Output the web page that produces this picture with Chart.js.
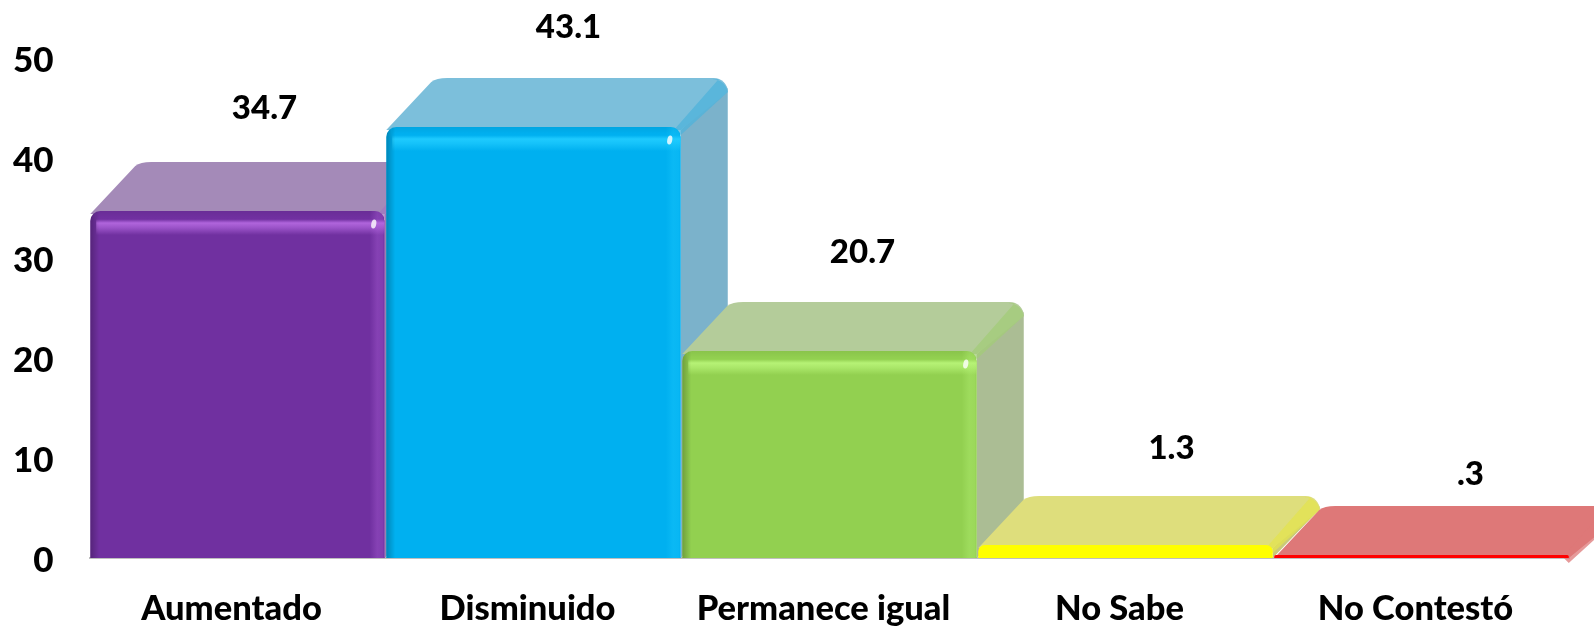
<!doctype html>
<html>
<head>
<meta charset="UTF-8">
<title>Chart</title>
<script src="https://cdn.jsdelivr.net/npm/chart.js@4"></script>
<style>
	html, body { margin: 0; padding: 0; background: #fff; overflow: hidden; }
	canvas { display: block; }
</style>
</head>
<body>
<canvas id="canvas" width="1594" height="626"></canvas>
<script>
var categories = ["Aumentado", "Disminuido", "Permanece igual", "No Sabe", "No Contestó"];
var values = [34.7, 43.1, 20.7, 1.3, 0.3];
var yTicks = [0, 10, 20, 30, 40, 50];

var frontColors = ["#7030A0", "#00B0F0", "#92D050", "#FFFF00", "#FF0000"];
var topColors = ["#A48AB8", "#7CBFDB", "#B4CC9A", "#DEDE7C", "#DE7878"];
var sideColors = ["#9A80AE", "#7BB2CB", "#ABBD94", "#C9C97A", "#D4706F"];
var bandColors = ["#A078C0", "#4FB3DB", "#A3CC78", "#E3E34F", "#DE7878"];
var lightColors = ["#B468E0", "#20CCFF", "#B8F478", "#FFFF00", "#FF0000"];

// offset of the value label from the bar top centre
var labelDx = [27, 35, 33, 46, 49];
var labelDy = [103, 100, 99, 97, 81];

var depthX = 47, depthY = 49, font = "900 33px Lato, sans-serif";

function topFace(ctx, b, l, r, c) {
	var y = b.y - depthY;
	ctx.beginPath();
	ctx.moveTo(l, b.y + 3);
	ctx.lineTo(l + depthX - 2, y + 4);
	ctx.quadraticCurveTo(l + depthX + 3, y, l + depthX + 14, y);
	ctx.arcTo(r + depthX, y, r + depthX, y + 14, 14);
	ctx.lineTo(r, b.y + 3);
	ctx.closePath();
	ctx.fillStyle = c;
	ctx.fill();
}

var box3d = {
	id: "box3d",
	beforeDatasetsDraw: function(chart) {
		var ctx = chart.ctx, bars = chart.getDatasetMeta(0).data;
		ctx.save();
		bars.forEach(function(b, i) {
			var l = b.x - b.width / 2, r = b.x + b.width / 2, base = b.base;
			// side
			ctx.beginPath();
			ctx.moveTo(r, b.y + 3);
			ctx.lineTo(r + depthX, b.y - depthY + 10);
			ctx.lineTo(r + depthX, base - depthY);
			ctx.lineTo(r, base);
			ctx.closePath();
			ctx.fillStyle = sideColors[i];
			ctx.fill();
			topFace(ctx, b, l, r, topColors[i]);
			// softer band on the top right edge
			ctx.save();
			ctx.globalAlpha = 0.75;
			ctx.beginPath();
			ctx.moveTo(r - 6, b.y + 2);
			ctx.lineTo(r + depthX - 9, b.y - depthY + 1);
			ctx.arcTo(r + depthX, b.y - depthY, r + depthX, b.y - depthY + 14, 14);
			ctx.lineTo(r + depthX, b.y - depthY + 14);
			ctx.lineTo(r, b.y + 8);
			ctx.closePath();
			ctx.fillStyle = bandColors[i];
			ctx.fill();
			ctx.restore();
		});
		ctx.restore();
	},
	afterDatasetsDraw: function(chart) {
		var ctx = chart.ctx, bars = chart.getDatasetMeta(0).data;
		ctx.save();
		bars.forEach(function(b, i) {
			var l = b.x - b.width / 2, r = b.x + b.width / 2, h = b.base - b.y, g, c = lightColors[i];
			// bevel only shows on the tall bars
			if (h > 30) {
				ctx.save();
				ctx.beginPath();
				ctx.roundRect(l, b.y, b.width, h, [10, 10, 0, 0]);
				ctx.clip();

				g = ctx.createLinearGradient(0, b.y, 0, b.y + 24);
				g.addColorStop(0, "rgba(0,0,0,0.06)");
				g.addColorStop(0.2, "rgba(0,0,0,0.02)");
				g.addColorStop(0.34, c + "00");
				g.addColorStop(0.5, c + "F0");
				g.addColorStop(0.7, c + "A0");
				g.addColorStop(1, c + "00");
				ctx.fillStyle = g;
				ctx.fillRect(l + 6, b.y, b.width - 6, 24);

				g = ctx.createLinearGradient(l, 0, l + 9, 0);
				g.addColorStop(0, "rgba(0,0,0,0.24)");
				g.addColorStop(1, "rgba(0,0,0,0)");
				ctx.fillStyle = g;
				ctx.fillRect(l, b.y, 9, h);

				g = ctx.createLinearGradient(r - 15, 0, r, 0);
				g.addColorStop(0, c + "00");
				g.addColorStop(0.5, c + "50");
				g.addColorStop(0.85, c + "40");
				g.addColorStop(1, c + "00");
				ctx.fillStyle = g;
				ctx.fillRect(r - 15, b.y, 15, h);

				ctx.beginPath();
				ctx.ellipse(r - 11, b.y + 13, 2.5, 4.5, 0.2, 0, Math.PI * 2);
				ctx.fillStyle = "rgba(255,255,255,0.8)";
				ctx.fill();
				ctx.restore();
			}
			// value label
			ctx.fillStyle = "#000";
			ctx.font = font;
			ctx.textAlign = "center";
			ctx.textBaseline = "middle";
			ctx.fillText(String(values[i]).replace(/^0/, ""), b.x + labelDx[i], b.y - labelDy[i]);
		});
		ctx.restore();
	}
};

var ctx = document.getElementById("canvas").getContext("2d");
new Chart(ctx, {
	type: "bar",
	data: {
		labels: categories,
		datasets: [{
			data: values,
			backgroundColor: frontColors,
			borderRadius: { topLeft: 10, topRight: 10, bottomLeft: 0, bottomRight: 0 },
			borderSkipped: false,
			categoryPercentage: 1,
			barPercentage: 0.995
		}]
	},
	options: {
		responsive: false,
		animation: false,
		layout: { padding: { top: 58, right: 24.5, left: 0, bottom: 0 } },
		plugins: { legend: { display: false }, tooltip: { enabled: false } },
		scales: {
			x: {
				grid: { display: false },
				border: { color: "#BFBFBF", width: 2 },
				ticks: { color: "#000", font: { family: "Lato, sans-serif", size: 34.5, weight: "900" }, padding: 22, maxRotation: 0, labelOffset: -6 },
				afterFit: function(s) { s.height = 68; }
			},
			y: {
				min: yTicks[0],
				max: yTicks[yTicks.length - 1],
				grid: { display: false, drawTicks: false },
				border: { display: false },
				afterBuildTicks: function(s) { s.ticks = yTicks.map(function(v) { return { value: v }; }); },
				ticks: { color: "#000", font: { family: "Lato, sans-serif", size: 35, weight: "900" }, padding: 36, labelOffset: 3 },
				afterFit: function(s) { s.width = 89.5; }
			}
		}
	},
	plugins: [box3d]
});
</script>
</body>
</html>
